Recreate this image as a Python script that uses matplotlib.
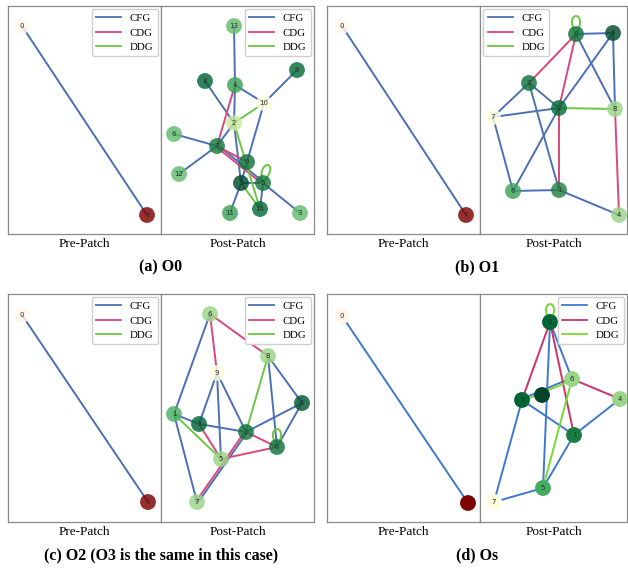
import matplotlib
matplotlib.use("Agg")
import matplotlib.pyplot as plt
import numpy as np
from matplotlib.lines import Line2D
from matplotlib.path import Path
from matplotlib.patches import PathPatch

W, H = 628, 571

# ---- graph data (layout in px from the axes' top-left corner) ----
pre_pos = {
    "a": {0: (14, 20), 1: (139, 209)},
    "b": {0: (15, 20), 1: (139, 209)},
    "c": {0: (14, 21), 1: (140, 208)},
    "d": {0: (15, 22), 1: (141, 209)},
}
pre_score = {0: 0.0, 1: 1.0}

post_pos_a = {13: (73, 20), 8: (44, 75), 4: (74, 79), 9: (136, 64), 10: (103, 97),
              2: (73, 117), 6: (13, 128), 7: (56, 140), 12: (18, 168), 0: (86, 156),
              1: (80, 177), 5: (102, 177), 14: (99, 203), 11: (69, 207), 3: (139, 207)}
post_score_a = {13: 0.55, 8: 0.88, 4: 0.65, 9: 0.85, 10: 0.02, 2: 0.3, 6: 0.55, 7: 0.8,
                12: 0.55, 0: 0.82, 1: 0.97, 5: 0.8, 14: 0.86, 11: 0.65, 3: 0.55}
cfg_a = [(13, 4), (8, 2), (4, 10), (9, 10), (10, 0), (4, 2), (2, 1), (6, 7), (7, 2),
         (12, 7), (7, 5), (1, 5), (0, 1), (5, 14), (1, 11), (5, 3)]
cdg_a = [(4, 7), (7, 5), (7, 0)]
ddg_a = [(2, 10), (2, 14), (1, 14), (5, 5)]

post_pos_b = {0: (96, 28), 5: (133, 27), 3: (49, 77), 2: (79, 102), 8: (135, 103),
              7: (13, 111), 6: (33, 185), 1: (79, 184), 4: (139, 209)}
post_score_b = {0: 0.82, 5: 0.97, 3: 0.82, 2: 0.86, 8: 0.42, 7: 0.02, 6: 0.65, 1: 0.75, 4: 0.42}
cfg_b = [(0, 5), (0, 8), (5, 2), (5, 8), (3, 2), (3, 7), (3, 1), (7, 2), (7, 6),
         (6, 2), (6, 1), (1, 4)]
cdg_b = [(0, 3), (0, 2), (2, 1), (8, 4)]
ddg_b = [(0, 0), (2, 8)]

post_pos_c = {6: (49, 20), 8: (107, 62), 9: (56, 79), 4: (141, 109), 1: (13, 120),
              3: (38, 130), 2: (85, 138), 0: (116, 153), 5: (60, 165), 7: (36, 208)}
post_score_c = {6: 0.42, 8: 0.42, 9: 0.02, 4: 0.93, 1: 0.6, 3: 0.88, 2: 0.82, 0: 0.82,
                5: 0.42, 7: 0.42}
cfg_c = [(6, 1), (9, 3), (9, 5), (9, 2), (8, 0), (8, 4), (4, 2), (4, 0), (1, 3),
         (3, 2), (1, 7), (2, 7)]
cdg_c = [(6, 9), (6, 8), (3, 5), (2, 0), (5, 0), (2, 7)]
ddg_c = [(8, 2), (1, 5), (0, 0)]

post_pos_d = {0: (70, 28), 6: (92, 85), 2: (62, 101), 3: (42, 106), 4: (140, 105),
              1: (94, 141), 5: (63, 194), 7: (14, 208)}
post_score_d = {0: 0.88, 6: 0.42, 2: 1.0, 3: 0.88, 4: 0.42, 1: 0.78, 5: 0.62, 7: 0.02}
cfg_d = [(0, 5), (0, 6), (3, 6), (3, 1), (3, 7), (1, 4), (1, 5), (5, 7)]
cdg_d = [(0, 3), (0, 1), (6, 4)]
ddg_d = [(0, 0), (6, 5), (3, 6)]

captions = ["(a) O0", "(b) O1", "(c) O2 (O3 is the same in this case)", "(d) Os"]
edge_types = ["CFG", "CDG", "DDG"]

palette = {"CFG": "#4c6fb5", "CDG": "#d9487a", "DDG": "#6cc644"}
palette_d = {"CFG": "#3f78d2", "CDG": "#cc3366", "DDG": "#77d933"}

SERIF = ["Liberation Serif", "DejaVu Serif"]

fig = plt.figure(figsize=(W / 100, H / 100), dpi=100)


def px_axes(x0, y0, w, h):
    ax = fig.add_axes([x0 / W, 1 - (y0 + h) / H, w / W, h / H])
    ax.set_xlim(0, w)
    ax.set_ylim(h, 0)
    ax.set_xticks([])
    ax.set_yticks([])
    for s in ax.spines.values():
        s.set_color("#8a8a8a")
        s.set_linewidth(0.9)
    return ax


def draw_graph(ax, pos, score, edges, cols, cmap, alpha, loop_lean=0):
    # count parallel edges between same pair to offset them
    pairs = {}
    for t in edge_types:
        for u, v in edges[t]:
            if u != v:
                pairs.setdefault(frozenset((u, v)), []).append(t)
    for t in edge_types:
        for u, v in edges[t]:
            x1, y1 = pos[u]
            x2, y2 = pos[v]
            if u == v:
                verts = [(x1, y1), (x1 - 14 + loop_lean, y1 - 24),
                         (x1 + 14 + loop_lean, y1 - 24), (x1, y1)]
                p = Path(verts, [Path.MOVETO, Path.CURVE4, Path.CURVE4, Path.CURVE4])
                ax.add_patch(PathPatch(p, fc="none", ec=cols[t], lw=1.4, zorder=2))
                continue
            grp = pairs[frozenset((u, v))]
            off = 0.0
            if len(grp) > 1:
                off = (grp.index(t) - (len(grp) - 1) / 2) * 2.2
            d = np.array([x2 - x1, y2 - y1], float)
            n = np.array([-d[1], d[0]]) / np.hypot(*d)
            ax.plot([x1 + n[0] * off, x2 + n[0] * off], [y1 + n[1] * off, y2 + n[1] * off],
                    color=cols[t], lw=1.4, zorder=1, solid_capstyle="round")
    nodes = list(pos.keys())
    xs = [pos[k][0] for k in nodes]
    ys = [pos[k][1] for k in nodes]
    cs = [cmap(score[k]) for k in nodes]
    ax.scatter(xs, ys, s=130, c=cs, alpha=alpha, edgecolors="none", zorder=3)
    for k, x, y in zip(nodes, xs, ys):
        ax.text(x, y, str(k), fontsize=5, ha="center", va="center", color="#303030", zorder=4)


def add_legend(ax, cols, loc):
    handles = [Line2D([0], [0], color=cols[t], lw=1.3) for t in edge_types]
    ax.legend(handles, edge_types, loc=loc, prop={"family": SERIF, "size": 7.8},
              handlelength=2.3, labelspacing=0.45, borderpad=0.4, borderaxespad=0.3,
              handletextpad=0.8, framealpha=1, edgecolor="#d0d0d0", fancybox=True)


panels = [
    ("a", 8, 6, 153, 153, post_pos_a, post_score_a, cfg_a, cdg_a, ddg_a, True, "upper right", 6),
    ("b", 327, 6, 153, 147, post_pos_b, post_score_b, cfg_b, cdg_b, ddg_b, False, "upper left", 0),
    ("c", 8, 294, 153, 153, post_pos_c, post_score_c, cfg_c, cdg_c, ddg_c, True, "upper right", 0),
    ("d", 327, 294, 153, 147, post_pos_d, post_score_d, cfg_d, cdg_d, ddg_d, False, "upper right", 0),
]

greens = plt.get_cmap("YlGn")
reds = plt.get_cmap("OrRd")

for i, (key, x0, y0, wpre, wpost, ppos, pscore, cfg, cdg, ddg, pre_leg, post_loc, lean) in enumerate(panels):
    cols = palette_d if key == "d" else palette
    alpha = 1.0 if key == "d" else 0.82
    h = 228
    ax_pre = px_axes(x0, y0, wpre, h)
    ax_post = px_axes(x0 + wpre, y0, wpost, h)

    draw_graph(ax_pre, pre_pos[key], pre_score, {"CFG": [(0, 1)], "CDG": [], "DDG": []},
               cols, reds, alpha)
    draw_graph(ax_post, ppos, pscore, {"CFG": cfg, "CDG": cdg, "DDG": ddg},
               cols, greens, alpha, loop_lean=lean)
    if pre_leg:
        add_legend(ax_pre, cols, "upper right")
    add_legend(ax_post, cols, post_loc)

    ty = y0 + h + 10
    fig.text((x0 + wpre / 2) / W, 1 - ty / H, "Pre-Patch", ha="center", va="center",
             family=SERIF, fontsize=9.5)
    fig.text((x0 + wpre + wpost / 2) / W, 1 - ty / H, "Post-Patch", ha="center", va="center",
             family=SERIF, fontsize=9.5)
    cy = y0 + h + 33
    fig.text((x0 + (wpre + wpost) / 2) / W, 1 - cy / H, captions[i], ha="center", va="center",
             family=SERIF, fontsize=11.5, fontweight="bold")

fig.savefig("out.png", dpi=100)
